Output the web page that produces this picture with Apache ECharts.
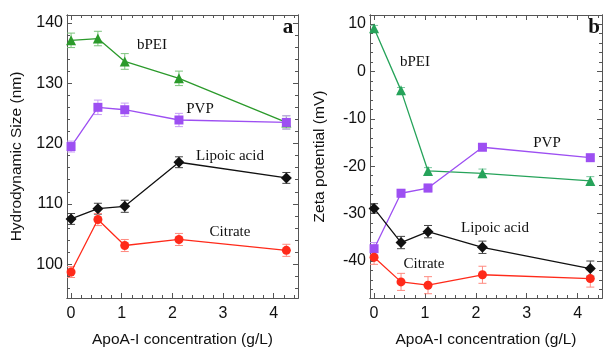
<!DOCTYPE html>
<html>
<head>
<meta charset="utf-8">
<script src="https://cdn.jsdelivr.net/npm/echarts@6/dist/echarts.min.js"></script>
<style>
  html, body { margin: 0; padding: 0; background: #fff; }
  #chart { width: 605px; height: 347px; }
</style>
</head>
<body>
<div id="chart"></div>
<script>
// ApoA-I concentration (g/L)
const conc = [0, 0.53, 1.06, 2.13, 4.25];

// panel a: hydrodynamic size (nm)
const sizeBPEI = [137.1, 137.4, 133.6, 130.8, 123.5];
const sizeBPEIErr = [1.2, 1.2, 1.3, 1.2, 1.1];
const sizePVP = [119.5, 126.0, 125.6, 123.9, 123.5];
const sizePVPErr = [0.9, 1.2, 1.1, 1.1, 1.1];
const sizeLipoic = [107.5, 109.2, 109.6, 116.9, 114.3];
const sizeLipoicErr = [0.9, 0.9, 1.0, 0.9, 0.9];
const sizeCitrate = [98.7, 107.4, 103.1, 104.1, 102.3];
const sizeCitrateErr = [0.9, 1.0, 1.0, 1.0, 1.0];

// panel b: zeta potential (mV)
const zetaBPEI = [9.1, -4.0, -21.0, -21.5, -23.1];
const zetaBPEIErr = [0.6, 0.6, 0.7, 0.9, 0.9];
const zetaPVP = [-37.4, -25.7, -24.6, -16.0, -18.2];
const zetaPVPErr = [1.3, 0.8, 0.8, 0.5, 0.5];
const zetaLipoic = [-28.9, -36.1, -33.8, -37.1, -41.6];
const zetaLipoicErr = [1.0, 1.3, 1.3, 1.3, 1.6];
const zetaCitrate = [-39.2, -44.4, -45.1, -42.9, -43.7];
const zetaCitrateErr = [1.5, 1.8, 1.8, 1.8, 1.8];

// tick labels
const xTicks = [0, 1, 2, 3, 4];
const xMinor = [0.2, 0.4, 0.6, 0.8, 1.2, 1.4, 1.6, 1.8, 2.2, 2.4, 2.6, 2.8, 3.2, 3.4, 3.6, 3.8, 4.2, 4.4];
const sizeTicks = [100, 110, 120, 130, 140];
const sizeMinor = [96, 98, 102, 104, 106, 108, 112, 114, 116, 118, 122, 124, 126, 128, 132, 134, 136, 138];
const zetaTicks = [-40, -30, -20, -10, 0, 10];
const zetaMinor = [-46, -44, -42, -38, -36, -34, -32, -28, -26, -24, -22, -18, -16, -14, -12, -8, -6, -4, -2, 2, 4, 6, 8];

const X_MIN = -0.08, X_MAX = 4.48;
const SIZE_MIN = 94.4, SIZE_MAX = 141.3;
const ZETA_MIN = -47.8, ZETA_MAX = 11.9;

const axisColor = '#555';
const sans = '"Liberation Sans", Arial, sans-serif';
const serif = '"Liberation Serif", "Times New Roman", serif';

// one axis: major ticks with labels, or just tick marks for minor/mirror sides
function makeAxis(grid, position, min, max, values, len, opts = {}) {
    return {
        type: 'value',
        gridIndex: grid,
        position: position,
        min: min,
        max: max,
        splitLine: { show: false },
        axisLine: { show: true, onZero: false, lineStyle: { color: axisColor, width: 1 } },
        axisTick: { show: true, inside: true, length: len, customValues: values, lineStyle: { color: axisColor } },
        axisLabel: opts.labels
            ? { show: true, customValues: values, color: '#111', fontSize: 16, fontFamily: sans, margin: opts.margin || 5 }
            : { show: false },
        name: opts.name || '',
        nameLocation: 'middle',
        nameGap: opts.nameGap || 0,
        nameTextStyle: { color: '#111', fontSize: 15.5, fontFamily: sans }
    };
}

const xAxes = [];
const yAxes = [];
[0, 1].forEach(g => {
    // bottom labelled axis first so it gets index 0 / 4
    xAxes.push(makeAxis(g, 'bottom', X_MIN, X_MAX, xTicks, 5, { labels: true, margin: 8, name: 'ApoA-I concentration (g/L)', nameGap: 34 }));
    xAxes.push(makeAxis(g, 'bottom', X_MIN, X_MAX, xMinor, 3));
    xAxes.push(makeAxis(g, 'top', X_MIN, X_MAX, xTicks, 5));
    xAxes.push(makeAxis(g, 'top', X_MIN, X_MAX, xMinor, 3));
    const ymin = g === 0 ? SIZE_MIN : ZETA_MIN;
    const ymax = g === 0 ? SIZE_MAX : ZETA_MAX;
    const yt = g === 0 ? sizeTicks : zetaTicks;
    const ym = g === 0 ? sizeMinor : zetaMinor;
    const yname = g === 0 ? 'Hydrodynamic Size (nm)' : 'Zeta potential (mV)';
    yAxes.push(makeAxis(g, 'left', ymin, ymax, yt, 5, { labels: true, margin: 4, name: yname, nameGap: 42 }));
    yAxes.push(makeAxis(g, 'left', ymin, ymax, ym, 3));
    yAxes.push(makeAxis(g, 'right', ymin, ymax, yt, 5));
    yAxes.push(makeAxis(g, 'right', ymin, ymax, ym, 3));
});

function pairs(vals) {
    return conc.map((c, i) => [c, vals[i]]);
}

function lineSeries(g, vals, color, symbol, size) {
    return {
        type: 'line',
        xAxisIndex: g * 4,
        yAxisIndex: g * 4,
        data: pairs(vals),
        symbol: symbol,
        symbolSize: size,
        showSymbol: true,
        lineStyle: { color: color, width: 1.3 },
        itemStyle: { color: color },
        z: 3,
        animation: false
    };
}

function errorSeries(g, vals, errs, color) {
    return {
        type: 'custom',
        xAxisIndex: g * 4,
        yAxisIndex: g * 4,
        data: conc.map((c, i) => [c, vals[i] - errs[i], vals[i] + errs[i]]),
        encode: { x: 0, y: [1, 2] },
        renderItem: (params, api) => {
            const lo = api.coord([api.value(0), api.value(1)]);
            const hi = api.coord([api.value(0), api.value(2)]);
            const w = 4;
            const style = { stroke: color, lineWidth: 1 };
            return {
                type: 'group',
                children: [
                    { type: 'line', shape: { x1: lo[0], y1: lo[1], x2: hi[0], y2: hi[1] }, style },
                    { type: 'line', shape: { x1: lo[0] - w, y1: lo[1], x2: lo[0] + w, y2: lo[1] }, style },
                    { type: 'line', shape: { x1: hi[0] - w, y1: hi[1], x2: hi[0] + w, y2: hi[1] }, style }
                ]
            };
        },
        z: 2,
        animation: false
    };
}

const greenA = '#2b9a2b', greenB = '#26a35a';
const purple = '#9d4ff2', black = '#111', red = '#ff2a1a';

const series = [
    errorSeries(0, sizeBPEI, sizeBPEIErr, '#7cc47c'),
    errorSeries(0, sizePVP, sizePVPErr, '#c79cf6'),
    errorSeries(0, sizeLipoic, sizeLipoicErr, '#444'),
    errorSeries(0, sizeCitrate, sizeCitrateErr, '#ff8a80'),
    lineSeries(0, sizeBPEI, greenA, 'triangle', 10),
    lineSeries(0, sizePVP, purple, 'rect', 9),
    lineSeries(0, sizeLipoic, black, 'diamond', 11),
    lineSeries(0, sizeCitrate, red, 'circle', 9),
    errorSeries(1, zetaBPEI, zetaBPEIErr, '#7cc7a0'),
    errorSeries(1, zetaPVP, zetaPVPErr, '#c79cf6'),
    errorSeries(1, zetaLipoic, zetaLipoicErr, '#444'),
    errorSeries(1, zetaCitrate, zetaCitrateErr, '#ff8a80'),
    lineSeries(1, zetaBPEI, greenB, 'triangle', 10),
    lineSeries(1, zetaPVP, purple, 'rect', 9),
    lineSeries(1, zetaLipoic, black, 'diamond', 11),
    lineSeries(1, zetaCitrate, red, 'circle', 9)
];

// series names written next to the curves, and panel letters
const annotations = [
    ['bPEI', 152, 45], ['PVP', 200, 109], ['Lipoic acid', 230, 156], ['Citrate', 230, 232],
    ['bPEI', 415, 62], ['PVP', 547, 143], ['Lipoic acid', 495, 228], ['Citrate', 424, 264]
];
const graphic = annotations.map(([t, x, y]) => ({
    type: 'text', x: x, y: y,
    style: { text: t, fill: '#111', font: '15px ' + serif, textAlign: 'center', textVerticalAlign: 'middle' }
}));
graphic.push({ type: 'text', x: 288, y: 28, style: { text: 'a', fill: '#111', font: 'bold 21px ' + serif, textAlign: 'center', textVerticalAlign: 'middle' } });
graphic.push({ type: 'text', x: 594, y: 28, style: { text: 'b', fill: '#111', font: 'bold 21px ' + serif, textAlign: 'center', textVerticalAlign: 'middle' } });

const chart = echarts.init(document.getElementById('chart'), null, { renderer: 'canvas' });
chart.setOption({
    backgroundColor: '#fff',
    animation: false,
    grid: [
        { left: 67, top: 15, width: 231, height: 283, containLabel: false, outerBoundsMode: 'none' },
        { left: 370, top: 15, width: 232, height: 283, containLabel: false, outerBoundsMode: 'none' }
    ],
    xAxis: xAxes,
    yAxis: yAxes,
    series: series,
    graphic: graphic
});
</script>
</body>
</html>
